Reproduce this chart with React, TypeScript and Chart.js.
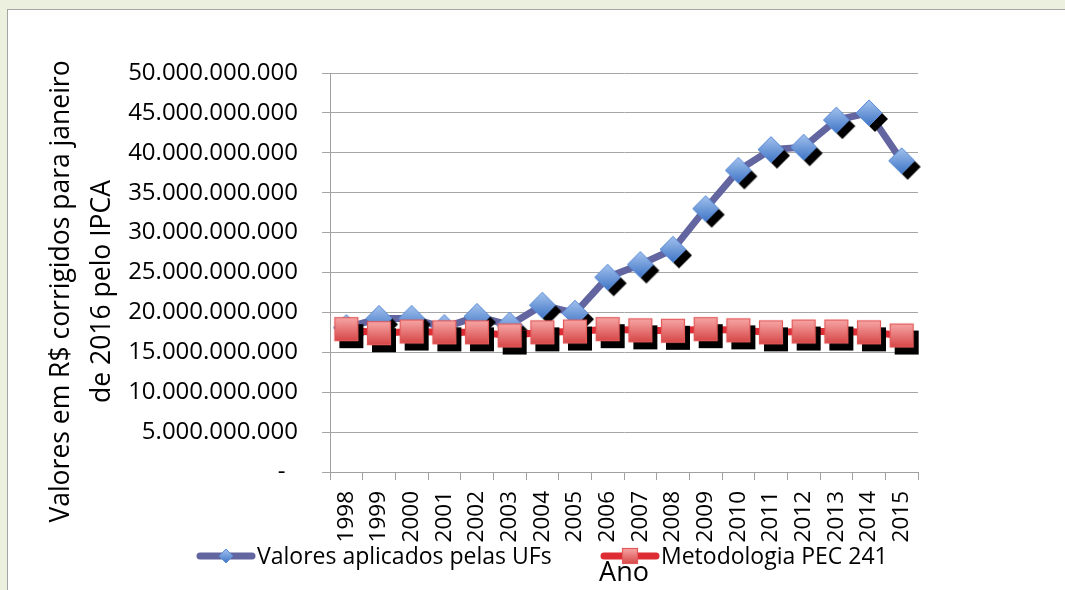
import React, { useEffect, useRef } from 'react';
import { Chart, registerables } from 'chart.js';

Chart.register(...registerables);

const years = ['1998', '1999', '2000', '2001', '2002', '2003', '2004', '2005', '2006', '2007', '2008', '2009', '2010', '2011', '2012', '2013', '2014', '2015'];
const valoresUFs = [18100000000, 19250000000, 19250000000, 18100000000, 19500000000, 18400000000, 20900000000, 19900000000, 24400000000, 26000000000, 27900000000, 33000000000, 37800000000, 40400000000, 40700000000, 44100000000, 45000000000, 39000000000];
const metodologiaPEC241 = [17900000000, 17400000000, 17600000000, 17500000000, 17500000000, 17100000000, 17500000000, 17600000000, 17900000000, 17750000000, 17700000000, 17900000000, 17750000000, 17500000000, 17600000000, 17600000000, 17500000000, 17100000000];
const seriesNames = ['Valores aplicados pelas UFs', 'Metodologia PEC 241'];
const yTitleLines = ['Valores em R$ corrigidos para janeiro', 'de 2016 pelo IPCA'];
const xTitle = 'Ano';
const yMin = 0;
const yMax = 50000000000;
const yStep = 5000000000;

const FONT = '"Open Sans", "Noto Sans", sans-serif';
const BLUE_LINE = '#6265A0';
const RED_LINE = '#DD2C33';

function formatBR(v: number): string {
  if (v === 0) return '-  ';
  return Math.round(v).toString().replace(/\B(?=(\d{3})+(?!\d))/g, '.');
}

function makeDiamond(r: number, shadow: boolean): HTMLCanvasElement {
  const size = 2 * r + 16;
  const c = document.createElement('canvas');
  c.width = size;
  c.height = size;
  const ctx = c.getContext('2d')!;
  const cx = size / 2;
  const path = (x: number, y: number) => {
    ctx.beginPath();
    ctx.moveTo(x, y - r);
    ctx.lineTo(x + r, y);
    ctx.lineTo(x, y + r);
    ctx.lineTo(x - r, y);
    ctx.closePath();
  };
  if (shadow) {
    path(cx + 6, cx + 6);
    ctx.fillStyle = '#000';
    ctx.fill();
  }
  path(cx, cx);
  const g = ctx.createLinearGradient(0, cx - r, 0, cx + r);
  g.addColorStop(0, '#A3C2EE');
  g.addColorStop(1, '#3F75C6');
  ctx.fillStyle = g;
  ctx.fill();
  ctx.lineWidth = 1;
  ctx.strokeStyle = '#5A8CD6';
  ctx.stroke();
  return c;
}

function makeSquare(h: number, shadow: boolean): HTMLCanvasElement {
  const size = 2 * h + 16;
  const c = document.createElement('canvas');
  c.width = size;
  c.height = size;
  const ctx = c.getContext('2d')!;
  const cx = size / 2;
  if (shadow) {
    ctx.fillStyle = '#000';
    ctx.fillRect(cx - h + 5, cx - h + 7, 2 * h, 2 * h);
  }
  const g = ctx.createLinearGradient(0, cx - h, 0, cx + h);
  g.addColorStop(0, '#F8A8A8');
  g.addColorStop(1, '#D64545');
  ctx.fillStyle = g;
  ctx.fillRect(cx - h, cx - h, 2 * h, 2 * h);
  ctx.lineWidth = 1.2;
  ctx.strokeStyle = '#E25A5A';
  ctx.strokeRect(cx - h + 0.5, cx - h + 0.5, 2 * h - 1, 2 * h - 1);
  return c;
}

export default function App() {
  const canvasRef = useRef<HTMLCanvasElement | null>(null);

  useEffect(() => {
    const canvas = canvasRef.current;
    if (!canvas) return;
    const diamond = makeDiamond(13, true);
    const square = makeSquare(12, true);
    const legendDiamond = makeDiamond(7, false);
    const legendSquare = makeSquare(8, false);

    const overlay = {
      id: 'overlay',
      afterDraw(chart: any) {
        const ctx = chart.ctx as CanvasRenderingContext2D;
        const area = chart.chartArea;
        // Y axis title (two lines)
        ctx.save();
        const cy = (area.top + area.bottom) / 2 + 19;
        ctx.translate(0, cy);
        ctx.rotate(-Math.PI / 2);
        ctx.fillStyle = '#000';
        ctx.font = `26.5px ${FONT}`;
        ctx.textAlign = 'center';
        ctx.textBaseline = 'alphabetic';
        ctx.fillText(yTitleLines[0], 0, 69);
        ctx.fillText(yTitleLines[1], 0, 110);
        ctx.restore();

        // Legend
        const ly = 556;
        const items = [
          { x: 197, color: BLUE_LINE, marker: legendDiamond, name: seriesNames[0] },
          { x: 601, color: RED_LINE, marker: legendSquare, name: seriesNames[1] },
        ];
        ctx.save();
        ctx.font = `23px ${FONT}`;
        ctx.textBaseline = 'alphabetic';
        ctx.textAlign = 'left';
        for (const it of items) {
          ctx.beginPath();
          ctx.moveTo(it.x + 3, ly);
          ctx.lineTo(it.x + 55, ly);
          ctx.lineWidth = 7;
          ctx.lineCap = 'round';
          ctx.strokeStyle = it.color;
          ctx.stroke();
          const mx = it.x + 29;
          ctx.drawImage(it.marker, mx - it.marker.width / 2, ly - it.marker.height / 2);
          ctx.fillStyle = '#000';
          ctx.fillText(it.name, it.x + 60, ly + 8);
        }
        ctx.restore();
      },
    };

    const chart = new Chart(canvas, {
      type: 'line',
      data: {
        labels: years,
        datasets: [
          {
            label: seriesNames[0],
            data: valoresUFs,
            borderColor: BLUE_LINE,
            backgroundColor: BLUE_LINE,
            borderWidth: 7,
            pointStyle: diamond as any,
            pointRadius: 14,
            tension: 0,
            order: 1,
          },
          {
            label: seriesNames[1],
            data: metodologiaPEC241,
            borderColor: RED_LINE,
            backgroundColor: RED_LINE,
            borderWidth: 7,
            pointStyle: square as any,
            pointRadius: 14,
            tension: 0,
            order: 0,
          },
        ],
      },
      options: {
        responsive: false,
        animation: false,
        devicePixelRatio: 1,
        layout: { padding: { top: 73, right: 147, left: 0, bottom: 0 } },
        plugins: {
          legend: { display: false },
          tooltip: { enabled: false },
          title: { display: false },
        },
        scales: {
          x: {
            type: 'category',
            offset: true,
            grid: {
              display: true,
              offset: true,
              drawOnChartArea: false,
              drawTicks: true,
              tickLength: 8,
              color: '#A0A0A0',
              lineWidth: 1,
            },
            border: { display: true, color: '#A0A0A0', width: 1 },
            ticks: {
              minRotation: 90,
              maxRotation: 90,
              autoSkip: false,
              padding: 11,
              color: '#000',
              font: { family: FONT, size: 22.5 },
            },
            title: {
              display: true,
              text: xTitle,
              color: '#000',
              font: { family: FONT, size: 27 },
              padding: { top: 0, bottom: 0 },
            },
            afterFit(scale: any) {
              scale.height = 118;
            },
          },
          y: {
            type: 'linear',
            min: yMin,
            max: yMax,
            grid: {
              color: '#A6A6A6',
              lineWidth: 1,
              tickLength: 8,
              drawTicks: true,
            },
            border: { display: true, color: '#A0A0A0', width: 1 },
            ticks: {
              stepSize: yStep,
              padding: 24,
              color: '#000',
              font: { family: FONT, size: 24 },
              callback: (v: any) => formatBR(Number(v)),
            },
            afterFit(scale: any) {
              scale.width = 330;
            },
          },
        },
      },
      plugins: [overlay],
    });

    return () => {
      chart.destroy();
    };
  }, []);

  return (
    <div style={{ position: 'fixed', left: 0, top: 0, width: 1065, height: 590, background: '#EBF1DE', overflow: 'hidden' }}>
      <div
        style={{
          position: 'absolute',
          left: 7,
          top: 9,
          width: 1100,
          height: 640,
          background: '#FFFFFF',
          border: '1.5px solid #A5A5A5',
        }}
      />
      <canvas
        ref={canvasRef}
        width={1065}
        height={590}
        style={{ position: 'absolute', left: 0, top: 0, width: 1065, height: 590 }}
      />
    </div>
  );
}
